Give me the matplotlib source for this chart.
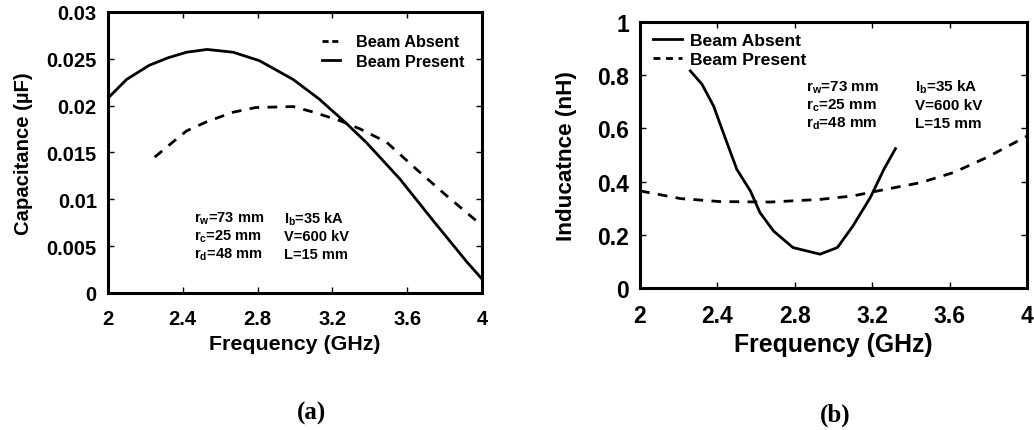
import numpy as np
import matplotlib.pyplot as plt

plt.rcParams['font.family'] = ['Liberation Sans', 'DejaVu Sans']
plt.rcParams['font.weight'] = 'bold'
plt.rcParams['mathtext.fontset'] = 'custom'
plt.rcParams['mathtext.rm'] = 'Liberation Sans:bold'
plt.rcParams['mathtext.it'] = 'Liberation Sans:bold'
plt.rcParams['mathtext.bf'] = 'Liberation Sans:bold'

# (a) capacitance
cap_present_f = [2.0, 2.1, 2.22, 2.32, 2.42, 2.53, 2.67, 2.81, 2.99, 3.13, 3.27, 3.38, 3.56, 3.74, 3.92, 4.0]
cap_present_c = [0.0208, 0.0228, 0.0243, 0.0251, 0.0257, 0.0260, 0.0257, 0.0248, 0.0228, 0.0207, 0.0182, 0.0161, 0.0122, 0.0077, 0.0033, 0.0015]
cap_absent_f = [2.25, 2.34, 2.42, 2.53, 2.67, 2.79, 2.99, 3.10, 3.24, 3.35, 3.49, 3.65, 3.81, 4.0]
cap_absent_c = [0.0145, 0.0160, 0.0173, 0.0183, 0.0193, 0.0198, 0.0199, 0.0193, 0.0184, 0.0175, 0.0161, 0.0132, 0.0104, 0.0072]

# (b) inductance
ind_absent_f = [2.26, 2.32, 2.38, 2.43, 2.50, 2.57, 2.62, 2.69, 2.79, 2.93, 3.02, 3.10, 3.19, 3.26, 3.32]
ind_absent_l = [0.816, 0.766, 0.684, 0.584, 0.446, 0.365, 0.283, 0.214, 0.152, 0.127, 0.152, 0.233, 0.340, 0.446, 0.524]
ind_present_f = [2.0, 2.21, 2.41, 2.67, 2.93, 3.10, 3.27, 3.45, 3.62, 3.79, 4.0]
ind_present_l = [0.365, 0.336, 0.325, 0.323, 0.333, 0.346, 0.371, 0.396, 0.434, 0.490, 0.571]

x_ticks = [2, 2.4, 2.8, 3.2, 3.6, 4]
x_labels = ['2', '2.4', '2.8', '3.2', '3.6', '4']
cap_ticks = [0, 0.005, 0.01, 0.015, 0.02, 0.025, 0.03]
cap_labels = ['0', '0.005', '0.01', '0.015', '0.02', '0.025', '0.03']
ind_ticks = [0, 0.2, 0.4, 0.6, 0.8, 1]
ind_labels = ['0', '0.2', '0.4', '0.6', '0.8', '1']

params_left = ['r$_\\mathrm{w}$=73 mm', 'r$_\\mathrm{c}$=25 mm', 'r$_\\mathrm{d}$=48 mm']
params_right = ['I$_\\mathrm{b}$=35 kA', 'V=600 kV', 'L=15 mm']

fig = plt.figure(figsize=(10.34, 4.31), dpi=100)
ax1 = fig.add_axes([0.1044, 0.3179, 0.3617, 0.652])
ax2 = fig.add_axes([0.619, 0.3295, 0.3743, 0.6172])

dash = (0, (3.5, 3.0))

ax1.plot(cap_absent_f, cap_absent_c, color='black', lw=2, linestyle=dash, label='Beam Absent')
ax1.plot(cap_present_f, cap_present_c, color='black', lw=2, label='Beam Present')
ax2.plot(ind_absent_f, ind_absent_l, color='black', lw=2, label='Beam Absent')
ax2.plot(ind_present_f, ind_present_l, color='black', lw=2, linestyle=dash, label='Beam Present')

ax1.set_xlim(2, 4)
ax1.set_ylim(0, 0.03)
ax2.set_xlim(2, 4)
ax2.set_ylim(0, 1)

for ax, yt, yl, fs in [(ax1, cap_ticks, cap_labels, 14.5), (ax2, ind_ticks, ind_labels, 16.5)]:
    ax.set_xticks(x_ticks)
    ax.set_xticklabels(x_labels)
    ax.set_yticks(yt)
    ax.set_yticklabels(yl)
    ax.tick_params(direction='in', length=4, width=1, top=True, right=True, labelsize=fs)
    ax.tick_params(axis='x', pad=11.5)
    ax.tick_params(axis='y', pad=8)
    for s in ax.spines.values():
        s.set_linewidth(2.2)

ax1.set_xlabel('Frequency (GHz)', fontsize=15.4, fontweight='bold')
ax1.set_ylabel('Capacitance (\u00b5F)', fontsize=14.6, fontweight='bold')
ax1.xaxis.set_label_coords(0.5, -0.146)
ax1.yaxis.set_label_coords(-0.2, 0.5)
ax2.set_xlabel('Frequency (GHz)', fontsize=17.9, fontweight='bold')
ax2.set_ylabel('Inducatnce (nH)', fontsize=16.2, fontweight='bold')
ax2.xaxis.set_label_coords(0.5, -0.165)
ax2.yaxis.set_label_coords(-0.162, 0.5)

leg1 = ax1.legend(loc='upper left', bbox_to_anchor=(0.572, 0.92), frameon=False,
                  fontsize=11.7, handlelength=1.1, handletextpad=1.0, borderpad=0,
                  borderaxespad=0, labelspacing=0.25)
leg1.get_lines()[0].set_linestyle((0, (2.2, 1.3)))
leg2 = ax2.legend(loc='upper left', bbox_to_anchor=(0.034, 0.958), frameon=False,
                  fontsize=12.6, handlelength=1.65, handletextpad=0.45, borderpad=0,
                  borderaxespad=0, labelspacing=0.2)
leg2.get_lines()[1].set_linestyle((0, (2.5, 2.0)))

# parameter text blocks
for i in range(3):
    ax1.text(2.46, 0.0080 - 0.0019 * i, params_left[i], fontsize=10.5, va='center', ha='left')
    ax1.text(2.94, 0.0080 - 0.0019 * i, params_right[i], fontsize=10.5, va='center', ha='left')
    ax2.text(2.86, 0.757 - 0.068 * i, params_left[i], fontsize=11, va='center', ha='left')
    ax2.text(3.42, 0.757 - 0.068 * i, params_right[i], fontsize=11, va='center', ha='left')

fig.text(312 / 1034, 1 - 413 / 431, '(a)', family='Liberation Serif', fontweight='bold',
         fontsize=18, ha='center', va='center')
fig.text(835 / 1034, 1 - 415 / 431, '(b)', family='Liberation Serif', fontweight='bold',
         fontsize=18, ha='center', va='center')

fig.savefig('out.png', dpi=100)
